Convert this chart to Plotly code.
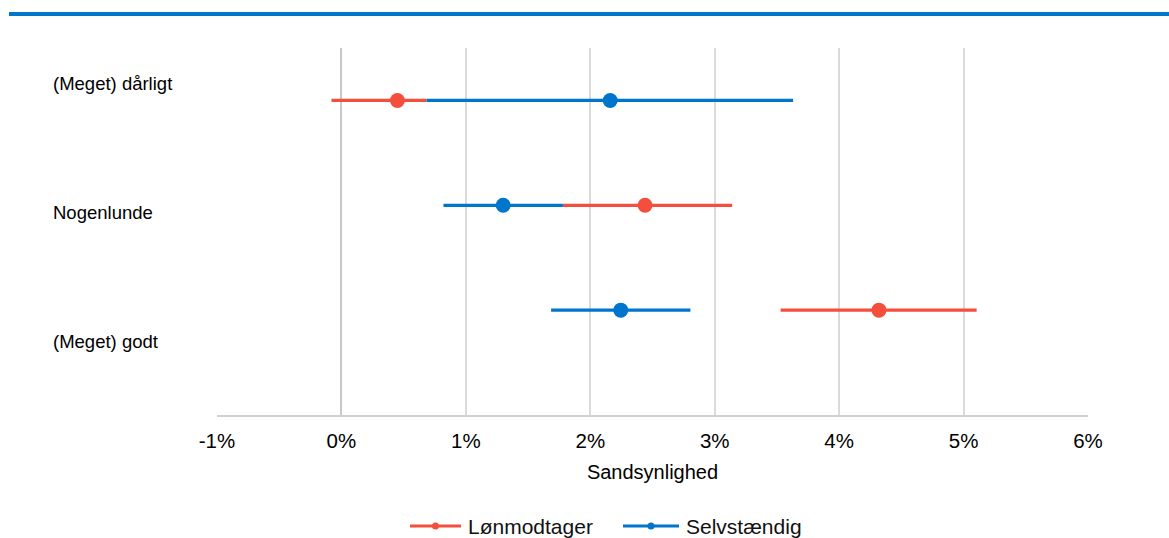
import plotly.graph_objects as go

categories = ["(Meget) dårligt", "Nogenlunde", "(Meget) godt"]
cat_pos = [3, 2, 1]

# Lønmodtager (employees)
lon_point = [0.45, 2.44, 4.32]
lon_low = [-0.08, 1.78, 3.53]
lon_high = [0.685, 3.14, 5.105]

# Selvstændig (self-employed)
selv_point = [2.16, 1.30, 2.245]
selv_low = [0.685, 0.82, 1.685]
selv_high = [3.63, 1.78, 2.805]

series_names = ["Lønmodtager", "Selvstændig"]

tick_vals = [-1, 0, 1, 2, 3, 4, 5, 6]
tick_text = ["-1%", "0%", "1%", "2%", "3%", "4%", "5%", "6%"]

RED = "#F44E3D"
BLUE = "#0075CC"
FONT = "Liberation Sans, Arial, sans-serif"

W, H = 1169, 538
ML, MR, MT, MB = 217, 81, 48, 123
PW = W - ML - MR
PH = H - MT - MB


def px_x(px):
    return (px - ML) / PW


def px_y(py):
    return (H - MB - py) / PH


fig = go.Figure()


def add_series(name, color, point, low, high):
    xs, ys = [], []
    for lo, hi, y in zip(low, high, cat_pos):
        xs += [lo, hi, None]
        ys += [y, y, None]
    fig.add_trace(go.Scatter(x=xs, y=ys, mode="lines", line=dict(color=color, width=3.3),
                             showlegend=False, hoverinfo="skip"))
    fig.add_trace(go.Scatter(x=point, y=cat_pos, mode="markers",
                             marker=dict(color=color, size=15), showlegend=False,
                             name=name))


add_series(series_names[0], RED, lon_point, lon_low, lon_high)
add_series(series_names[1], BLUE, selv_point, selv_low, selv_high)

# category labels (left aligned, like the original)
label_offsets = [0.165, -0.065, -0.295]
for cat, y, off in zip(categories, cat_pos, label_offsets):
    fig.add_annotation(x=px_x(51), xref="paper", y=y + off, yref="y", text=cat,
                       showarrow=False, xanchor="left", yanchor="middle",
                       font=dict(size=18.5, color="#000000", family=FONT))

# top rule
fig.add_shape(type="line", xref="paper", yref="paper", x0=px_x(9), x1=px_x(1175),
              y0=px_y(14), y1=px_y(14), line=dict(color=BLUE, width=4))

# legend drawn manually (long line symbol with a small dot)
leg_y = px_y(526)
legend_items = [(series_names[0], RED, 410, 461), (series_names[1], BLUE, 623, 679)]
for name, color, x0, x1 in legend_items:
    fig.add_shape(type="line", xref="paper", yref="paper", x0=px_x(x0), x1=px_x(x1),
                  y0=leg_y, y1=leg_y, line=dict(color=color, width=3))
    cx = (x0 + x1) / 2
    fig.add_shape(type="circle", xref="paper", yref="paper",
                  x0=px_x(cx - 3.5), x1=px_x(cx + 3.5), y0=px_y(526 + 3.5), y1=px_y(526 - 3.5),
                  fillcolor=color, line=dict(color=color, width=0))
    fig.add_annotation(x=px_x(x1 + 5), xref="paper", y=leg_y, yref="paper", text=name,
                       showarrow=False, xanchor="left", yanchor="middle",
                       font=dict(size=21, color="#111111", family=FONT))

fig.update_layout(
    width=W, height=H,
    margin=dict(l=ML, r=MR, t=MT, b=MB),
    plot_bgcolor="white", paper_bgcolor="white",
    font=dict(family=FONT, color="#000000"),
    showlegend=False,
    xaxis=dict(range=[-1, 6], tickvals=tick_vals, ticktext=tick_text,
               showgrid=True, gridcolor="#DADADA", gridwidth=1.5,
               zeroline=True, zerolinecolor="#C8C8C8", zerolinewidth=2,
               showline=True, linecolor="#D0D0D0", linewidth=1.5,
               ticks="", tickfont=dict(size=20.5, color="#000000"), ticklabelstandoff=7,
               title=dict(text="Sandsynlighed", font=dict(size=20, color="#000000"), standoff=14)),
    yaxis=dict(range=[0, 3.5], showticklabels=False, showgrid=False, zeroline=False,
               showline=False, fixedrange=True),
)

fig.write_html("out.html", config={"displayModeBar": False},
               post_script="document.body.style.margin='0';document.body.style.overflow='hidden';")
